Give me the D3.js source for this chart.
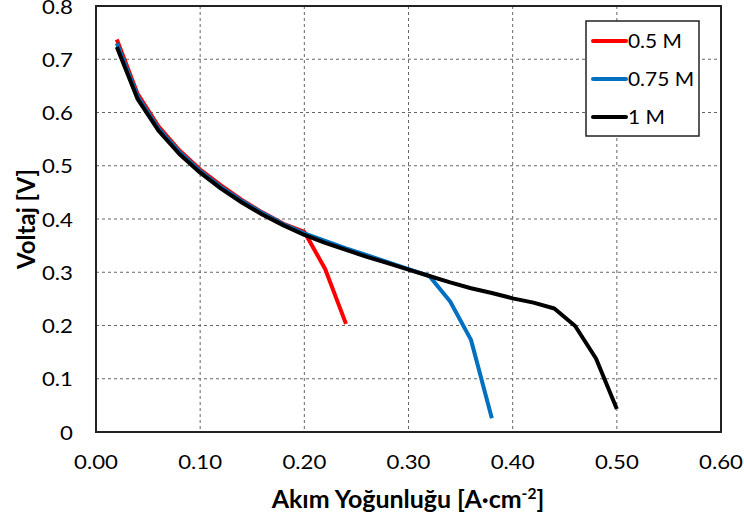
<!DOCTYPE html>
<html>
<head>
<meta charset="utf-8">
<title>Voltaj - Akım Yoğunluğu</title>
<script src="https://d3js.org/d3.v7.min.js"></script>
<style>
  body { margin: 0; background: #fff; }
  svg text { font-family: Lato, "Open Sans", sans-serif; fill: #000; }
  .grid line { stroke: #666; stroke-width: 1; stroke-dasharray: 3,3; }
</style>
</head>
<body>
<svg width="744" height="520"></svg>
<script>
// current density values (A/cm2) and voltages for each series
const x05 = [0.02, 0.04, 0.06, 0.08, 0.10, 0.12, 0.14, 0.16, 0.18, 0.20, 0.22, 0.24];
const v05 = [0.737, 0.635, 0.574, 0.529, 0.493, 0.463, 0.436, 0.412, 0.391, 0.376, 0.306, 0.203];

const x075 = [0.02, 0.04, 0.06, 0.08, 0.10, 0.12, 0.14, 0.16, 0.18, 0.20, 0.22, 0.24, 0.26, 0.28, 0.30, 0.32, 0.34, 0.36, 0.38];
const v075 = [0.730, 0.630, 0.570, 0.526, 0.490, 0.460, 0.434, 0.411, 0.390, 0.373, 0.359, 0.345, 0.332, 0.319, 0.306, 0.293, 0.245, 0.173, 0.026];

const x1 = [0.02, 0.04, 0.06, 0.08, 0.10, 0.12, 0.14, 0.16, 0.18, 0.20, 0.22, 0.24, 0.26, 0.28, 0.30, 0.32, 0.34, 0.36, 0.38, 0.40, 0.42, 0.44, 0.46, 0.48, 0.50];
const v1 = [0.723, 0.625, 0.566, 0.522, 0.487, 0.457, 0.431, 0.408, 0.388, 0.370, 0.355, 0.342, 0.329, 0.317, 0.305, 0.293, 0.281, 0.270, 0.261, 0.251, 0.243, 0.232, 0.199, 0.138, 0.043];

const seriesNames = ["0.5 M", "0.75 M", "1 M"];
const seriesColors = ["#ff0000", "#0070c0", "#000000"];

const xTicks = [0, 0.1, 0.2, 0.3, 0.4, 0.5, 0.6];
const yTicks = [0, 0.1, 0.2, 0.3, 0.4, 0.5, 0.6, 0.7, 0.8];

const series = [
  { name: seriesNames[0], color: seriesColors[0], pts: x05.map((d, i) => [d, v05[i]]) },
  { name: seriesNames[1], color: seriesColors[1], pts: x075.map((d, i) => [d, v075[i]]) },
  { name: seriesNames[2], color: seriesColors[2], pts: x1.map((d, i) => [d, v1[i]]) }
];

const margin = { left: 96, top: 6, right: 23, bottom: 88 };
const width = 744 - margin.left - margin.right;
const height = 520 - margin.top - margin.bottom;
const stretch = 1.17; // the original labels are a little wider than Lato

const svg = d3.select("svg");
const g = svg.append("g").attr("transform", `translate(${margin.left},${margin.top})`);

const x = d3.scaleLinear().domain([0, 0.6]).range([0, width]);
const y = d3.scaleLinear().domain([0, 0.8]).range([height, 0]);

// dashed grid
g.append("g").attr("class", "grid")
  .selectAll("line").data(xTicks.slice(1, -1)).join("line")
  .attr("x1", d => x(d)).attr("x2", d => x(d))
  .attr("y1", 0).attr("y2", height);
g.append("g").attr("class", "grid")
  .selectAll("line").data(yTicks.slice(1, -1)).join("line")
  .attr("x1", 0).attr("x2", width)
  .attr("y1", d => y(d)).attr("y2", d => y(d));

// frame
g.append("rect")
  .attr("width", width).attr("height", height)
  .attr("fill", "none").attr("stroke", "#222").attr("stroke-width", 2);

// tick labels
const fx = d3.format(".2f"), fy = d3.format(".1f");
g.append("g").selectAll("text").data(xTicks).join("text")
  .attr("transform", d => `translate(${x(d)},${height + 37}) scale(${stretch},1)`)
  .attr("text-anchor", "middle").attr("font-size", 19)
  .text(d => fx(d));
g.append("g").selectAll("text").data(yTicks).join("text")
  .attr("transform", d => `translate(-23,${y(d) + 1}) scale(${stretch},1)`)
  .attr("text-anchor", "end").attr("dy", "0.35em").attr("font-size", 19)
  .text(d => d === 0 ? "0" : fy(d));

// curves, black drawn last so it sits on top
const line = d3.line().x(d => x(d[0])).y(d => y(d[1]));
g.selectAll(".curve").data(series).join("path")
  .attr("class", "curve")
  .attr("d", d => line(d.pts))
  .attr("fill", "none")
  .attr("stroke", d => d.color)
  .attr("stroke-width", 4)
  .attr("stroke-linejoin", "round");

// axis titles
svg.append("text")
  .attr("transform", "translate(408,508) scale(1.04,1)")
  .attr("text-anchor", "middle").attr("font-size", 24).attr("font-weight", "bold")
  .html('Akım Yoğunluğu [A·cm<tspan dy="-9" font-size="15">-2</tspan><tspan dy="9">]</tspan>');

svg.append("text")
  .attr("transform", `translate(35,${margin.top + 213}) rotate(-90)`)
  .attr("text-anchor", "middle").attr("font-size", 24).attr("font-weight", "bold")
  .text("Voltaj [V]");

// legend
const lg = svg.append("g").attr("transform", "translate(586,21)");
lg.append("rect").attr("width", 113).attr("height", 115)
  .attr("fill", "#fff").attr("stroke", "#222").attr("stroke-width", 1.5);
const items = lg.selectAll(".item").data(series).join("g")
  .attr("transform", (d, i) => `translate(0,${20 + i * 38})`);
items.append("line").attr("x1", 7).attr("x2", 40)
  .attr("stroke", d => d.color).attr("stroke-width", 4).attr("stroke-linecap", "round");
items.append("text").attr("transform", "translate(42,0) scale(1.1,1)").attr("dy", "0.35em")
  .attr("font-size", 19).text(d => d.name);
</script>
</body>
</html>
